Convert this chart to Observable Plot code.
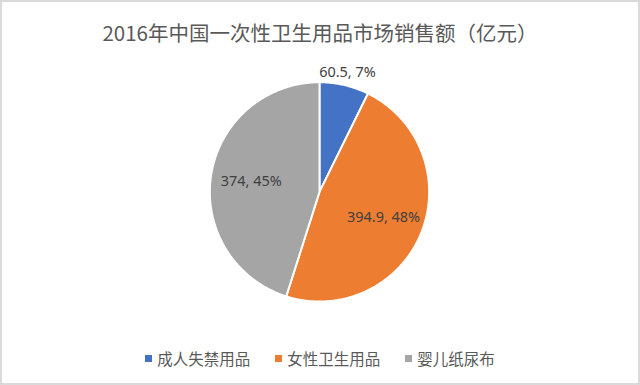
<!DOCTYPE html>
<html>
<head>
<meta charset="utf-8">
<script src="https://cdn.jsdelivr.net/npm/d3@7"></script>
<script src="https://cdn.jsdelivr.net/npm/@observablehq/plot@0.6"></script>
<style>
  html, body { margin: 0; padding: 0; background: #fff; }
  #wrap { position: relative; width: 640px; height: 385px; box-sizing: border-box; border: 2px solid #dadada; overflow: hidden; font-family: "Noto Sans CJK SC", "Noto Sans", sans-serif; }
  #title { position: absolute; left: 0; right: 0; top: 15px; text-align: center; font-size: 20.5px; color: #595959; line-height: 30px; }
  #chart { position: absolute; left: -2px; top: -2px; }
  #legend { position: absolute; left: 0; right: 0; top: 345px; display: flex; justify-content: center; gap: 25px; font-size: 15.5px; color: #595959; line-height: 22px; }
  .item { display: flex; align-items: center; }
  .sw { width: 7px; height: 7px; margin-right: 5px; }
</style>
</head>
<body>
<div id="wrap">
  <div id="title"></div>
  <div id="chart"></div>
  <div id="legend"></div>
</div>
<script>
const titleText = "2016年中国一次性卫生用品市场销售额（亿元）";
const categories = ["成人失禁用品", "女性卫生用品", "婴儿纸尿布"];
const values = [60.5, 394.9, 374];
const colors = ["#4472C4", "#ED7D31", "#A5A5A5"];

document.getElementById("title").textContent = titleText;

const W = 640, H = 385, cx = 320, cy = 192, R = 110;
const total = d3.sum(values);
const arcs = d3.pie().sort(null).value(d => d.value)(categories.map((c, i) => ({category: c, value: values[i]})));

// polygon points for each slice, in units of radius (angle measured clockwise from 12 o'clock)
const pts = [];
for (const a of arcs) {
  const c = a.data.category;
  pts.push({category: c, x: 0, y: 0});
  const n = Math.max(2, Math.ceil((a.endAngle - a.startAngle) / 0.01));
  for (let k = 0; k <= n; k++) {
    const t = a.startAngle + (a.endAngle - a.startAngle) * k / n;
    pts.push({category: c, x: Math.sin(t), y: Math.cos(t)});
  }
  pts.push({category: c, x: 0, y: 0});
}

const labels = arcs.map(a => {
  const m = (a.startAngle + a.endAngle) / 2;
  const frac = a.data.value / total;
  const rr = frac < 0.1 ? 1.12 : 0.63;
  return {
    x: Math.sin(m) * rr, y: Math.cos(m) * rr,
    text: `${a.data.value}, ${Math.round(frac * 100)}%`
  };
});

const plot = Plot.plot({
  width: W, height: H,
  margin: 0,
  x: {domain: [-cx / R, (W - cx) / R], axis: null},
  y: {domain: [-(H - cy) / R, cy / R], axis: null},
  color: {domain: categories, range: colors},
  style: {background: "transparent"},
  marks: [
    Plot.line(pts, {x: "x", y: "y", z: "category", fill: "category", stroke: "#fff", strokeWidth: 2, curve: "linear", strokeLinejoin: "round"}),
    Plot.text(labels, {x: "x", y: "y", text: "text", fontSize: 14.5, fill: "#404040", fontFamily: "'Noto Sans', 'Noto Sans CJK SC', sans-serif"})
  ]
});
document.getElementById("chart").appendChild(plot);

const legend = document.getElementById("legend");
categories.forEach((c, i) => {
  const it = document.createElement("div");
  it.className = "item";
  const sw = document.createElement("span");
  sw.className = "sw";
  sw.style.background = colors[i];
  const tx = document.createElement("span");
  tx.textContent = c;
  it.appendChild(sw); it.appendChild(tx);
  legend.appendChild(it);
});
</script>
</body>
</html>
